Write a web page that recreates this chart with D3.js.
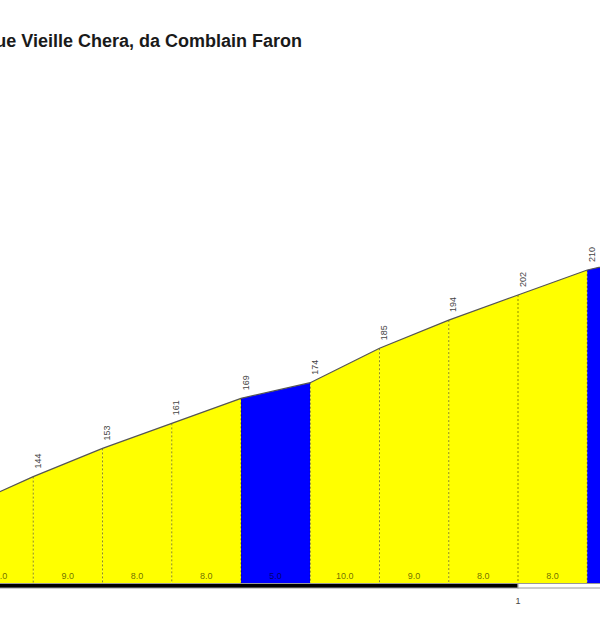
<!DOCTYPE html>
<html><head><meta charset="utf-8">
<script src="https://cdn.jsdelivr.net/npm/d3@7/dist/d3.min.js"></script>
<style>body{margin:0;background:#fff;}svg{display:block;}</style>
</head><body>
<svg id="c" width="600" height="630"></svg>
<script>
const title = "Côte de la Rue Vieille Chera, da Comblain Faron";
const km = [0.2,0.3,0.4,0.5,0.6,0.7,0.8,0.9,1.0,1.1,1.2];
const elevation = [134,144,153,161,169,174,185,194,202,210,215];
const gradient = [10.0,9.0,8.0,8.0,5.0,10.0,9.0,8.0,8.0,5.0];
const kmTicks = [1];
const kmBands = [[0,1],[1,2]];

const svg = d3.select("#c");
const x = d3.scaleLinear().domain([0,1]).range([-174.5,518]);
const y = d3.scaleLinear().domain([110,210]).range([583,270]);
const base = y(110);

// title
svg.append("text").attr("x",302).attr("y",47).attr("text-anchor","end")
  .attr("font-family","Liberation Sans, Arial, sans-serif").attr("font-weight","bold")
  .attr("font-size",18).attr("fill","#1a1a1a").text(title);

// segments
const segs = gradient.map((g,i)=>({g, i}));
svg.append("g").selectAll("path").data(segs).join("path")
  .attr("d", d=>`M${x(km[d.i])},${base}L${x(km[d.i])},${y(elevation[d.i])}L${x(km[d.i+1])},${y(elevation[d.i+1])}L${x(km[d.i+1])},${base}Z`)
  .attr("fill", d=> d.g < 6 ? "#0000ff" : "#ffff00");

// dotted verticals
svg.append("g").selectAll("line").data(km).join("line")
  .attr("x1",d=>x(d)).attr("x2",d=>x(d))
  .attr("y1",(d,i)=>y(elevation[i])).attr("y2",base+4)
  .attr("stroke","#000").attr("stroke-opacity",0.45).attr("stroke-width",1)
  .attr("stroke-dasharray","2,2");

// profile line
svg.append("path").datum(km.map((k,i)=>[k,elevation[i]]))
  .attr("d", d3.line().x(d=>x(d[0])).y(d=>y(d[1])))
  .attr("fill","none").attr("stroke","#555").attr("stroke-width",1.2);

// elevation labels
svg.append("g").selectAll("text").data(km).join("text")
  .attr("transform",(d,i)=>`translate(${x(d)+7.5},${y(elevation[i])-8}) rotate(-90)`)
  .attr("font-family","Liberation Sans, Arial, sans-serif").attr("font-size",9)
  .attr("fill","#444").text((d,i)=>elevation[i]);

// gradient labels
svg.append("g").selectAll("text").data(segs).join("text")
  .attr("x",d=>(x(km[d.i])+x(km[d.i+1]))/2).attr("y",base-4)
  .attr("text-anchor","middle")
  .attr("font-family","Liberation Sans, Arial, sans-serif").attr("font-size",9)
  .attr("fill","#000").attr("fill-opacity",0.6).text(d=>d.g.toFixed(1));

// km bar
svg.append("g").selectAll("rect").data(kmBands).join("rect")
  .attr("x",d=>x(d[0])).attr("width",d=>x(d[1])-x(d[0]))
  .attr("y",base+0.5).attr("height",4.5)
  .attr("fill",(d,i)=> i%2===0 ? "#000" : "#fff")
  .attr("stroke","#999").attr("stroke-width",1);

svg.append("g").selectAll("text").data(kmTicks).join("text")
  .attr("x",d=>x(d)).attr("y",604).attr("text-anchor","middle")
  .attr("font-family","Liberation Sans, Arial, sans-serif").attr("font-size",9)
  .attr("fill","#444").text(d=>d);
</script>
</body></html>
